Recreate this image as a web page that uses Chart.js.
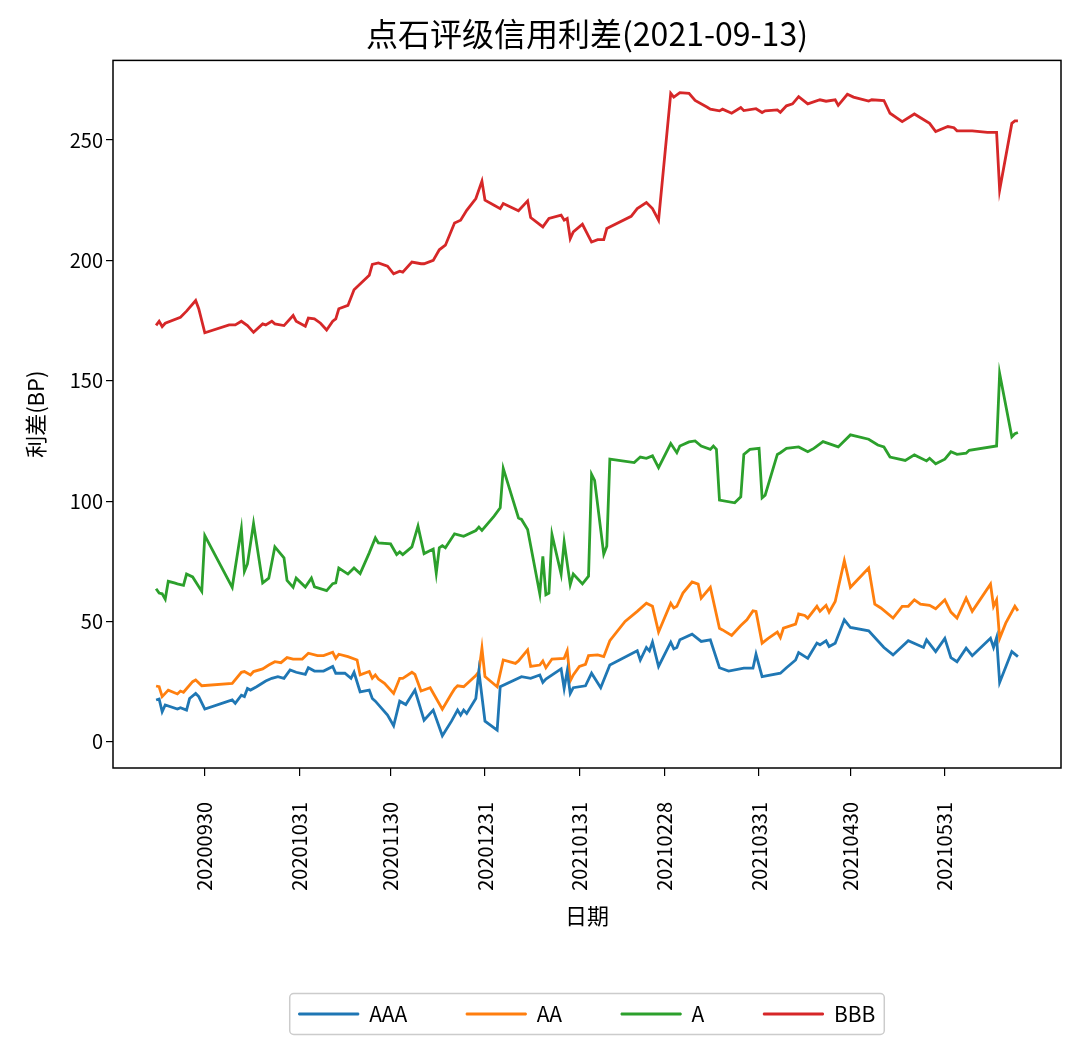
<!DOCTYPE html>
<html lang="zh">

<head>
  <meta charset="UTF-8">
  <title>点石评级信用利差</title>
  <script src="https://cdn.jsdelivr.net/npm/chart.js"></script>
  <style>
    body { margin: 0; background: #fff; }
  </style>
</head>

<body>
  <canvas id="chart" width="1080" height="1055"></canvas>

  <script>
    const titleText = "点石评级信用利差(2021-09-13)";
    const tickDates = ["20200930", "20201031", "20201130", "20201231", "20210131", "20210228", "20210331", "20210430", "20210531"];

    // AAA
    const aaaDates = ["20200914","20200915","20200916","20200917","20200921","20200922","20200924","20200925","20200927","20200928","20200930",
      "20201009","20201010","20201012","20201013","20201014","20201015","20201017","20201020","20201022","20201024","20201026","20201028","20201030",
      "20201102","20201103","20201105","20201108","20201111","20201112","20201115","20201117","20201118","20201120","20201123","20201124","20201125","20201129",
      "20201201","20201203","20201205","20201208","20201211","20201214","20201217","20201220","20201222","20201223","20201224","20201225","20201228","20201229","20201231",
      "20210104","20210105","20210112","20210115","20210118","20210119","20210120","20210125","20210126","20210127","20210128","20210129",
      "20210202","20210204","20210207","20210210","20210219","20210220","20210222","20210223","20210224","20210226",
      "20210302","20210303","20210304","20210305","20210309","20210312","20210315","20210318","20210321","20210326","20210329","20210330",
      "20210401","20210407","20210409","20210412","20210413","20210416","20210419","20210420","20210422","20210423","20210425","20210428","20210430",
      "20210506","20210511","20210514","20210519","20210524","20210525","20210528","20210531",
      "20210602","20210604","20210607","20210609","20210615","20210616","20210617","20210618","20210622","20210624"];
    const aaaValues = [17.4,17.8,12.5,15.3,13.6,14.2,13.2,18,20.1,18.8,13.6,
      17.4,16,19.4,18.8,22.2,21.5,22.9,25.3,26.4,27.1,26.4,29.9,28.9,
      28,30.8,29.4,29.4,31.3,28.5,28.5,26.4,28.9,20.8,21.5,18,16.9,11.1,
      6.7,16.9,15.5,21.5,9,13.2,2.5,8.6,13.2,11.1,13.2,11.8,18,29.2,8.6,
      4.9,22.9,27.1,26.4,27.8,24.7,26.1,30.3,22.2,29.4,20.1,22.5,
      23.3,28.5,22.5,31.9,37.8,34,39.2,37.8,41.4,31.3,
      41.4,38.6,39.2,42.4,44.7,41.7,42.4,30.8,29.4,30.6,30.6,36.4,
      27.1,28.5,30.8,34,37.1,34.7,41,40.3,42,39.6,41,50.7,47.5,
      46.1,39.2,36.1,42,39.2,42.4,37.5,43,
      35,33.3,38.9,35.8,43,39.2,43.3,24.7,37.5,35.4];

    // AA
    const aaDates = ["20200914","20200915","20200916","20200918","20200921","20200922","20200923","20200926","20200927","20200929",
      "20201009","20201012","20201013","20201015","20201016","20201019","20201021","20201023","20201025","20201027","20201029",
      "20201101","20201103","20201106","20201108","20201111","20201112","20201113","20201116","20201119","20201120","20201123","20201124","20201125","20201126","20201128",
      "20201201","20201203","20201204","20201207","20201208","20201210","20201213","20201217","20201220","20201221","20201222","20201224","20201228","20201229","20201230","20201231",
      "20210104","20210106","20210110","20210111","20210114","20210115","20210118","20210119","20210120","20210122","20210126","20210127","20210128","20210129","20210131",
      "20210202","20210203","20210206","20210208","20210210","20210215","20210219","20210222","20210224","20210226",
      "20210302","20210303","20210304","20210306","20210309","20210311","20210312","20210315","20210318","20210319","20210322","20210325","20210327","20210329","20210330",
      "20210401","20210403","20210406","20210407","20210408","20210412","20210413","20210415","20210416","20210419","20210420","20210422","20210423","20210425","20210428","20210430",
      "20210506","20210508","20210510","20210514","20210517","20210519","20210521","20210523","20210526","20210528","20210531",
      "20210602","20210604","20210607","20210609","20210615","20210616","20210617","20210618","20210620","20210623","20210624"];
    const aaValues = [23.2,22.9,18.8,21.5,19.9,21.1,20.6,25,25.7,23.3,
      24.3,28.9,29.2,27.8,29.2,30.3,31.9,33.3,32.9,35,34.4,
      34.4,36.8,35.8,35.8,37.2,34.7,36.4,35.4,34,27.8,29.2,26.4,27.8,26.1,24.3,
      20.1,26.4,26.4,28.9,28,21.1,22.5,13.6,20,22,23.3,22.9,27.5,29.2,38.9,27.1,
      22.9,34,32.6,33.6,38.2,31.3,31.9,33.6,30.8,34.4,34.7,37.8,25.3,27.8,31.3,
      32.2,35.8,36.1,35.4,42,50,54.2,57.6,56.3,45.6,
      57.6,55.6,56.3,61.8,66.4,65.5,59.7,64.2,47.2,46.5,44.2,48.3,50.7,54.4,54.2,
      41,43,45.6,43.3,47.2,48.9,53.1,52.5,51.4,56.3,54.2,56.7,53.9,58.3,75.3,64.2,
      72.2,57.2,55.6,51.4,56.3,56.3,59,57.2,56.7,55.3,59,
      53.9,51.4,59.7,54.2,65.5,56.3,59,43,49.3,56.3,54.4];

    // A
    const aDates = ["20200914","20200915","20200916","20200917","20200918","20200920","20200921","20200923","20200924","20200926","20200929","20200930",
      "20201009","20201012","20201013","20201014","20201016","20201019","20201021","20201023","20201026","20201027","20201029","20201030",
      "20201102","20201104","20201105","20201109","20201111","20201112","20201113","20201116","20201118","20201120","20201123","20201125","20201126","20201130",
      "20201202","20201203","20201204","20201207","20201209","20201211","20201214","20201215","20201216","20201217","20201218","20201221","20201224","20201228","20201229","20201230",
      "20210103","20210105","20210106","20210111","20210112","20210114","20210118","20210119","20210120","20210121","20210122","20210125","20210126","20210128","20210129",
      "20210201","20210203","20210204","20210205","20210208","20210209","20210210","20210218","20210220","20210222","20210224","20210226",
      "20210302","20210304","20210305","20210308","20210310","20210312","20210315","20210316","20210317","20210318","20210323","20210325","20210326","20210328","20210331",
      "20210401","20210402","20210406","20210407","20210409","20210413","20210416","20210418","20210421","20210426","20210430",
      "20210506","20210509","20210511","20210513","20210518","20210521","20210525","20210526","20210528","20210531",
      "20210602","20210604","20210607","20210608","20210617","20210618","20210622","20210623","20210624"];
    const aValues = [63.6,61.8,61.5,59.3,66.7,66,65.6,65,69.7,68.5,62.5,85.7,
      64.2,88.5,70.8,73.9,90.7,66,68,81,76.4,67.1,64.2,68,
      64.3,68,64.4,62.8,65.7,66,72.2,69.7,72.2,69.9,78.5,84.7,82.6,82.2,
      77.8,78.9,77.8,81,89.6,78.2,80.1,70.1,80.6,81.5,80.6,86.4,85.4,87.8,89.2,87.8,
      93.8,97.2,113.6,93,92.4,88.2,61.5,77.1,61.1,61.8,86.1,69.7,83,65.3,69.7,
      65.6,68.8,111.1,108.6,78,81.3,117.4,116,118.3,117.8,118.8,113.9,
      123.9,120.1,122.9,124.6,125,122.9,121.5,122.9,121.5,100.4,99.3,101.8,119.4,121.5,121.9,
      101.4,102.5,119.4,120.1,121.9,122.5,120.5,121.9,124.7,122.5,127.5,
      125.7,123.3,122.5,118.3,116.9,119.2,116.7,117.8,115.5,117.4,
      120.5,119.4,119.9,121.1,122.9,153,126.7,128,128.5];

    // BBB
    const bbbDates = ["20200914","20200915","20200916","20200917","20200922","20200924","20200927","20200928","20200930",
      "20201008","20201010","20201012","20201014","20201016","20201019","20201020","20201022","20201023","20201026","20201029","20201030",
      "20201102","20201103","20201105","20201107","20201109","20201111","20201112","20201113","20201116","20201118","20201123","20201124","20201126","20201129",
      "20201201","20201203","20201204","20201207","20201210","20201211","20201214","20201216","20201218","20201221","20201223","20201225","20201228","20201230","20201231",
      "20210103","20210105","20210106","20210111","20210114","20210115","20210119","20210121","20210125","20210126","20210127","20210128","20210129",
      "20210201","20210204","20210206","20210208","20210209","20210217","20210219","20210222","20210224","20210226",
      "20210302","20210303","20210305","20210308","20210310","20210314","20210315","20210318","20210319","20210322","20210325","20210326","20210330",
      "20210401","20210402","20210406","20210407","20210409","20210411","20210413","20210416","20210420","20210422","20210425","20210426","20210429",
      "20210501","20210506","20210507","20210511","20210513","20210517","20210521","20210526","20210528",
      "20210601","20210603","20210604","20210609","20210614","20210617","20210618","20210622","20210623","20210624"];
    const bbbValues = [173,174.7,172.5,173.9,176.4,178.9,183.3,179.9,169.9,
      173.2,173.2,174.7,172.9,170.1,173.6,173.2,174.7,173.6,172.9,177.1,174.7,
      172.6,176,175.7,173.9,171.1,174.7,175.7,179.9,181.3,187.8,193.8,198.3,198.9,197.6,
      194.4,195.5,195.1,199.3,198.6,198.6,200,204.4,206.3,215.5,216.7,220.8,225.7,232.9,225,
      222.9,221.5,223.6,220.6,224.7,217.8,213.9,217.4,218.8,216.7,217.4,209,211.8,
      215,207.6,208.6,208.6,213.2,218.3,221.5,224,221.5,216.7,
      269.4,267.8,269.7,269.4,266.4,263.6,262.8,262.1,262.8,261.1,263.5,262.2,263,
      261.4,262.1,262.5,261.5,264.2,265,268,265,266.7,266.1,266.7,264.4,269,
      267.8,266.2,266.7,266.4,261.1,257.6,260.8,256.9,253.5,
      255.6,255.1,253.8,253.8,253.2,253.2,229.2,256.9,257.9,257.9];

    const fontFamily = "'Noto Sans CJK SC', 'Noto Sans', sans-serif";
    Chart.defaults.font.family = fontFamily;
    Chart.defaults.color = "#000";

    const DAY = 86400000;
    const toDay = s => Date.UTC(+s.slice(0, 4), +s.slice(4, 6) - 1, +s.slice(6, 8)) / DAY;
    const pad2 = n => String(n).padStart(2, "0");
    const fromDay = d => {
      const t = new Date(Math.round(d) * DAY);
      return t.getUTCFullYear() + pad2(t.getUTCMonth() + 1) + pad2(t.getUTCDate());
    };
    const points = (dates, values) => dates.map((d, i) => ({ x: toDay(d), y: values[i] }));

    const series = [
      { label: "AAA", dates: aaaDates, values: aaaValues, color: "#1f77b4" },
      { label: "AA", dates: aaDates, values: aaValues, color: "#ff7f0e" },
      { label: "A", dates: aDates, values: aValues, color: "#2ca02c" },
      { label: "BBB", dates: bbbDates, values: bbbValues, color: "#d62728" }
    ];

    // matplotlib style 5% margins
    const allX = series.flatMap(s => s.dates.map(toDay));
    const allY = series.flatMap(s => s.values);
    const xMin = Math.min(...allX), xMax = Math.max(...allX);
    const yMin = Math.min(...allY), yMax = Math.max(...allY);
    const xm = (xMax - xMin) * 0.05, ym = (yMax - yMin) * 0.05;

    // axes frame + legend box
    const framePlugin = {
      id: "frame",
      afterDraw(chart) {
        const { ctx, chartArea: a } = chart;
        ctx.save();
        ctx.strokeStyle = "#000";
        ctx.lineWidth = 1.5;
        ctx.strokeRect(a.left, a.top, a.right - a.left, a.bottom - a.top);
        const hb = chart.legend && chart.legend.legendHitBoxes;
        if (hb && hb.length) {
          const l = Math.min(...hb.map(h => h.left)) - 9;
          const r = Math.max(...hb.map(h => h.left + h.width)) + 9;
          const t = hb[0].top - 10;
          const b = hb[0].top + hb[0].height + 10;
          ctx.strokeStyle = "#cccccc";
          ctx.lineWidth = 1.5;
          ctx.beginPath();
          ctx.roundRect(l, t, r - l, b - t, 4);
          ctx.stroke();
        }
        ctx.restore();
      }
    };

    new Chart(document.getElementById("chart").getContext("2d"), {
      type: "line",
      data: {
        datasets: series.map(s => ({
          label: s.label,
          data: points(s.dates, s.values),
          borderColor: s.color,
          backgroundColor: s.color,
          borderWidth: 2.8,
          pointRadius: 0,
          tension: 0
        }))
      },
      options: {
        responsive: false,
        animation: false,
        layout: { padding: { left: 0, right: 19, top: 0, bottom: 20.5 } },
        plugins: {
          title: {
            display: true, text: titleText, fullSize: false,
            font: { size: 32, weight: "normal" }, color: "#000",
            padding: { top: 15, bottom: 7 }
          },
          legend: {
            position: "bottom", fullSize: false,
            labels: {
              boxWidth: 60, boxHeight: 2, padding: 59, font: { size: 21 }, color: "#000",
              generateLabels: chart => Chart.defaults.plugins.legend.labels.generateLabels(chart)
                .map(item => Object.assign(item, { lineWidth: 1 }))
            }
          },
          tooltip: { enabled: false }
        },
        scales: {
          x: {
            type: "linear",
            min: xMin - xm, max: xMax + xm,
            afterBuildTicks: s => { s.ticks = tickDates.map(d => ({ value: toDay(d) })); },
            afterFit: s => { s.height = 176.5; },
            ticks: { callback: v => fromDay(v), minRotation: 90, maxRotation: 90, autoSkip: false, font: { size: 20 }, color: "#000", padding: 26 },
            grid: { drawOnChartArea: false, tickLength: 8, color: "#000", lineWidth: 1.2 },
            border: { display: false },
            title: { display: true, text: "日期", font: { size: 22 }, color: "#000", padding: { top: 0, bottom: 16 } }
          },
          y: {
            min: yMin - ym, max: yMax + ym,
            afterBuildTicks: s => { s.ticks = [0, 50, 100, 150, 200, 250].map(v => ({ value: v })); },
            afterFit: s => { s.width = 113; },
            ticks: { font: { size: 20 }, color: "#000", padding: 3 },
            grid: { drawOnChartArea: false, tickLength: 7, color: "#000", lineWidth: 1.2 },
            border: { display: false },
            title: { display: true, text: "利差(BP)", font: { size: 22 }, color: "#000", padding: { top: 22, bottom: 0 } }
          }
        }
      },
      plugins: [framePlugin]
    });
  </script>
</body>

</html>
